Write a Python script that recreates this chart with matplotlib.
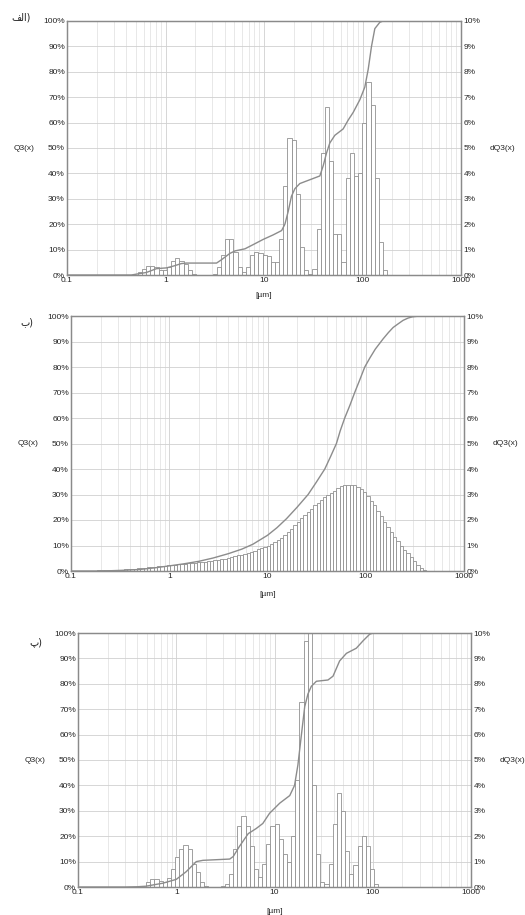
import numpy as np
import matplotlib.pyplot as plt
from matplotlib.ticker import FixedLocator, NullFormatter, LogLocator

# ---- panel 1 (الف) : histogram dQ3 [%] per log bin, cumulative Q3 [%]
p1_start = 0.524      # left edge of first bin, um
p1_ratio = 1.102      # bin width ratio
p1_dq3 = [0.1, 0.25, 0.35, 0.35, 0.3, 0.2, 0.2, 0.3, 0.55, 0.65,
          0.55, 0.45, 0.2, 0.05, 0, 0, 0, 0, 0.02, 0.3,
          0.8, 1.4, 1.4, 0.9, 0.3, 0.1, 0.3, 0.8, 0.9, 0.85,
          0.8, 0.75, 0.5, 0.5, 1.4, 3.5, 5.4, 5.3, 3.2, 1.1,
          0.2, 0.05, 0.25, 1.8, 4.8, 6.6, 4.5, 1.6, 1.6, 0.5,
          3.8, 4.8, 3.9, 4.0, 6.0, 7.6, 6.7, 3.8, 1.3, 0.2]
p1_size = [0.1, 0.45, 0.64, 0.81, 1.02, 1.2, 1.45, 1.63, 3.3, 3.7, 4.5, 5.1,
           6.4, 7.8, 9.8, 12.4, 15.1, 16.3, 17.6, 19.0, 20.6, 23.1, 29.2,
           36.9, 39.9, 43.1, 46.6, 52.4, 63.6, 71.6, 80.4, 94, 105.6,
           114.3, 123.4, 133.4, 150, 162]
p1_q3 = [0, 0, 1, 2.5, 2.8, 3.5, 4.5, 4.7, 4.7, 6, 8.5, 9.5,
         10.3, 12, 14, 15.8, 17.5, 20, 25, 31, 34, 36, 37.5,
         39, 43, 48, 52, 55, 57.5, 61, 64, 69, 74,
         81, 90, 97, 99.5, 100]

# ---- panel 2 (ب)
p2_start = 0.158
p2_ratio = 1.081
p2_dq3 = [0.01, 0.01, 0.02, 0.02, 0.02, 0.03, 0.03, 0.04, 0.04, 0.05,
          0.06, 0.07, 0.08, 0.09, 0.10, 0.12, 0.13, 0.15, 0.16, 0.17,
          0.18, 0.19, 0.21, 0.22, 0.23, 0.25, 0.26, 0.28, 0.29, 0.30,
          0.32, 0.33, 0.35, 0.36, 0.37, 0.39, 0.40, 0.42, 0.44, 0.46,
          0.49, 0.52, 0.55, 0.58, 0.61, 0.64, 0.68, 0.72, 0.76, 0.80,
          0.85, 0.89, 0.94, 0.99, 1.06, 1.13, 1.21, 1.29, 1.40, 1.52,
          1.65, 1.79, 1.93, 2.06, 2.19, 2.32, 2.45, 2.57, 2.68, 2.79,
          2.89, 2.98, 3.06, 3.15, 3.24, 3.32, 3.37, 3.38, 3.38, 3.36,
          3.30, 3.20, 3.08, 2.93, 2.76, 2.57, 2.36, 2.14, 1.92, 1.72,
          1.52, 1.34, 1.16, 0.99, 0.84, 0.70, 0.54, 0.38, 0.25, 0.12,
          0.04]
p2_size = [0.1, 0.2, 0.25, 0.35, 0.5, 0.7, 1.0, 1.4, 2.0, 2.8, 4.0, 5.5,
           7.1, 10, 12.5, 15.6, 20, 25.9, 31, 38.3, 44, 50.3, 55, 61.1,
           69, 77.2, 87, 97.7, 110, 125, 150, 170, 190, 215, 240, 270,
           300, 354, 1000]
p2_q3 = [0, 0, 0.1, 0.3, 0.6, 1.2, 2.0, 2.8, 3.8, 5.1, 6.8, 8.6,
         10.5, 14, 17, 20.5, 25, 30, 34.5, 40, 45, 50, 55, 60,
         65, 70, 75, 80, 83.5, 87, 91, 93.5, 95.5, 97, 98.3, 99.2,
         99.7, 100, 100]

# ---- panel 3 (پ)
p3_start = 0.494
p3_ratio = 1.102
p3_dq3 = [0.2, 0.3, 0.3, 0.25, 0.2, 0.35, 0.7, 1.2, 1.5, 1.65,
          1.5, 0.9, 0.6, 0.2, 0.05, 0, 0, 0, 0.02, 0.1,
          0.5, 1.5, 2.4, 2.8, 2.4, 1.6, 0.7, 0.4, 0.9, 1.7,
          2.4, 2.5, 1.9, 1.3, 1.0, 2.0, 4.2, 7.3, 9.7, 10.0,
          4.0, 1.3, 0.2, 0.1, 0.9, 2.5, 3.7, 3.0, 1.4, 0.5,
          0.85, 1.6, 2.0, 1.6, 0.7, 0.1]
p3_size = [0.1, 0.3, 0.4, 0.49, 0.73, 1.0, 1.26, 1.6, 1.87, 3.5, 3.8, 4.4,
           5.4, 6.5, 7.6, 8.9, 11.3, 14.3, 16.0, 17.3, 18.8, 20.3, 21.9,
           23.7, 26.7, 35, 39.4, 46, 54, 68, 80, 93, 100.7, 1000]
p3_q3 = [0, 0, 0.1, 0.3, 1.5, 3, 6, 10, 10.5, 11, 12, 16,
         21, 23, 25, 29, 33, 36, 40, 48, 60, 71, 76,
         79, 81, 81.5, 83, 89, 92, 94, 97, 99.5, 100, 100]

panel_tags = ['\ufed2\ufedf\ufe8d)', '\ufe8f)', '\ufb56)']

xticks = [0.1, 1, 10, 100, 1000]
xticklabels = ['0.1', '1', '10', '100', '1000']
left_ticks = list(range(0, 101, 10))
right_ticks = list(range(0, 11))

panels = [
    dict(start=p1_start, ratio=p1_ratio, dq3=p1_dq3, size=p1_size, q3=p1_q3,
         rect=[67, 21, 461, 275], tag_xy=(21, 17), xl=-0.079),
    dict(start=p2_start, ratio=p2_ratio, dq3=p2_dq3, size=p2_size, q3=p2_q3,
         rect=[71, 316, 464, 571], tag_xy=(27, 322), xl=-0.094),
    dict(start=p3_start, ratio=p3_ratio, dq3=p3_dq3, size=p3_size, q3=p3_q3,
         rect=[78, 633, 471, 887], tag_xy=(36, 642), xl=-0.098),
]

W, H = 525, 915
fig = plt.figure(figsize=(W / 100, H / 100), dpi=100)
fig.patch.set_facecolor('white')

txt = '#262626'
fs = 6.0
fam = ['Liberation Sans', 'DejaVu Sans']

for i, p in enumerate(panels):
    l, t, r, b = p['rect']
    ax2 = fig.add_axes([l / W, 1 - b / H, (r - l) / W, (b - t) / H])
    ax = ax2.twinx()
    ax.set_zorder(ax2.get_zorder() + 1)
    ax.patch.set_visible(False)

    # bars on right axis (dQ3)
    n = len(p['dq3'])
    edges = p['start'] * p['ratio'] ** np.arange(n + 1)
    ax2.bar(edges[:-1], p['dq3'], width=np.diff(edges), align='edge',
            facecolor='white', edgecolor='#909090', linewidth=0.6, zorder=2)
    ax2.set_xscale('log')
    ax2.set_xlim(0.1, 1000)
    ax2.set_ylim(0, 10)
    ax2.set_axisbelow(True)
    ax2.xaxis.set_major_locator(FixedLocator(xticks))
    ax2.set_xticklabels(xticklabels)
    ax2.xaxis.set_minor_locator(LogLocator(base=10, subs=np.arange(2, 10)))
    ax2.xaxis.set_minor_formatter(NullFormatter())
    ax2.grid(True, which='major', color='#d0d0d0', lw=0.6)
    ax2.grid(True, which='minor', axis='x', color='#dedede', lw=0.5)
    ax2.yaxis.tick_right()
    ax2.set_yticks(right_ticks)
    ax2.set_yticklabels([f'{v}%' for v in right_ticks])

    # cumulative curve on left axis (Q3)
    ax.plot(p['size'], p['q3'], color='#8c8c8c', lw=1.0, zorder=3)
    ax.set_ylim(0, 100)
    ax.yaxis.tick_left()
    ax.set_yticks(left_ticks)
    ax.set_yticklabels([f'{v}%' for v in left_ticks])

    for a in (ax, ax2):
        a.tick_params(axis='both', which='both', length=0, pad=1.5,
                      labelsize=fs, labelcolor=txt)
        for s in a.spines.values():
            s.set_color('#8a8a8a')
            s.set_linewidth(0.9)
        for lab in a.get_xticklabels() + a.get_yticklabels():
            lab.set_family(fam)
    ax2.tick_params(axis='y', pad=2)

    ax.text(-0.109, 0.5, 'Q3(x)', transform=ax.transAxes, ha='center',
            va='center', fontsize=fs, color=txt, family=fam)
    ax.text(1.106, 0.5, 'dQ3(x)', transform=ax.transAxes, ha='center',
            va='center', fontsize=fs, color=txt, family=fam)
    ax.text(0.5, p['xl'], '[\u00b5m]', transform=ax.transAxes, ha='center',
            va='center', fontsize=fs, color=txt, family=fam)

    tx, ty = p['tag_xy']
    fig.text(tx / W, 1 - ty / H, panel_tags[i], ha='center', va='center',
             fontsize=7, color='#222222', family=['DejaVu Sans'])

plt.savefig('out.png', dpi=100)
